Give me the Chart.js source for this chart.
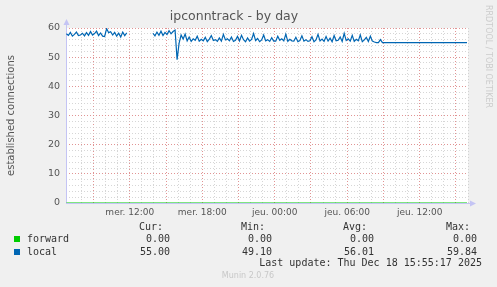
<!DOCTYPE html>
<html lang="fr">
<head>
<meta charset="UTF-8">
<title>ipconntrack - by day</title>
<script src="https://cdn.jsdelivr.net/npm/chart.js"></script>
<style>
    body { margin: 0; background: #f0f0f0; }
    .wrap { position: relative; width: 497px; height: 287px; overflow: hidden; }
    canvas { position: absolute; left: 0; top: 0; }
    .t { position: absolute; font-family: 'DejaVu Sans Mono', monospace; font-size: 10px; line-height: 12px; color: #333; white-space: pre; }
    .sw { position: absolute; width: 6px; height: 6px; }
    .credit { position: absolute; font-family: 'DejaVu Sans', sans-serif; font-size: 8px; color: #c8c8c8; white-space: pre; }
    .side { position: absolute; left: 484px; top: 5px; font-family: 'DejaVu Sans', sans-serif; font-size: 8px; color: #cccccc; writing-mode: vertical-rl; white-space: pre; }
</style>
</head>
<body>
<div class="wrap">
    <canvas id="chart" width="497" height="287"></canvas>

    <div class="t" style="right:334px; top:221px">Cur:</div>
    <div class="t" style="right:232px; top:221px">Min:</div>
    <div class="t" style="right:130px; top:221px">Avg:</div>
    <div class="t" style="right:27px; top:221px">Max:</div>

    <div class="sw" style="left:14px; top:236px; background:#00cc00"></div>
    <div class="t" style="left:27px; top:233px">forward</div>
    <div class="t" style="right:327px; top:233px">0.00</div>
    <div class="t" style="right:225px; top:233px">0.00</div>
    <div class="t" style="right:123px; top:233px">0.00</div>
    <div class="t" style="right:20px; top:233px">0.00</div>

    <div class="sw" style="left:14px; top:249px; background:#0066b3"></div>
    <div class="t" style="left:27px; top:246px">local</div>
    <div class="t" style="right:327px; top:246px">55.00</div>
    <div class="t" style="right:225px; top:246px">49.10</div>
    <div class="t" style="right:123px; top:246px">56.01</div>
    <div class="t" style="right:20px; top:246px">59.84</div>

    <div class="t" style="right:15px; top:257px">Last update: Thu Dec 18 15:55:17 2025</div>
    <div class="credit" style="left:248px; top:271px; transform:translateX(-50%)">Munin 2.0.76</div>
    <div class="side">RRDTOOL / TOBI OETIKER</div>
</div>

<script>
    // hours counted from Wed 00:00, one sample every 10 minutes
    const startHour = 6.75;
    const stepHours = 1 / 6;

    const localValues = [
        58.0, 57.5, 58.5, 57.2, 57.8, 58.6, 57.4, 57.6, 58.2, 57.3,
        58.4, 57.5, 58.8, 57.6, 58.1, 58.9, 57.4, 58.3, 57.2, 57.1,
        59.8, 58.4, 58.7, 57.6, 58.5, 57.2, 58.2, 56.9, 58.6, 57.4, 58.3,
        null, null, null, null, null, null, null, null, null, null, null, null,
        58.2, 57.3, 58.6, 57.5, 58.9, 57.4, 58.5, 57.8, 59.1, 58.0, 58.8, 59.3,
        49.1,
        54.8, 57.6, 56.2, 57.9, 55.6, 56.9, 55.4, 56.3, 55.8, 57.2, 55.5, 56.1, 55.6, 56.8, 55.3, 56.2, 57.4, 55.7, 56.0, 55.4,
        56.6, 55.5, 57.8, 55.9, 56.3, 55.6, 56.9, 55.4, 55.8, 57.1, 55.6, 57.5, 56.0, 55.3, 56.6, 55.5, 56.1, 58.1, 55.7, 56.4,
        55.3, 55.9, 57.6, 55.6, 56.0, 55.4, 56.7, 55.5, 55.5, 57.2, 55.8, 56.3, 55.6, 57.9, 55.4, 56.1, 55.6, 55.5, 56.8, 55.3,
        55.7, 57.3, 55.5, 56.0, 55.4, 55.6, 57.0, 55.3, 55.9, 57.8, 55.6, 56.2, 55.4, 57.1, 55.5, 56.5, 55.3, 57.4, 55.6, 55.8,
        56.9, 55.4, 58.2, 55.7, 56.3, 55.5, 57.5, 55.4, 56.1, 55.6, 57.6, 55.3, 55.9, 56.8, 55.4, 57.2, 55.5, 55.2, 55.0,
        55.0, 56.0, 55.0, 55.0, 55.0, 55.0, 55.0, 55.0, 55.0, 55.0,
        55.0, 55.0, 55.0, 55.0, 55.0, 55.0, 55.0, 55.0, 55.0, 55.0,
        55.0, 55.0, 55.0, 55.0, 55.0, 55.0, 55.0, 55.0, 55.0, 55.0,
        55.0, 55.0, 55.0, 55.0, 55.0, 55.0, 55.0, 55.0, 55.0, 55.0,
        55.0, 55.0, 55.0, 55.0, 55.0
    ];

    const forwardHours = [6.75, 39.92];
    const forwardValues = [0, 0];

    const majorHours = [9, 12, 15, 18, 21, 24, 27, 30, 33, 36, 39];
    const xLabelHours = [12, 18, 24, 30, 36];
    const xLabelText = ['mer. 12:00', 'mer. 18:00', 'jeu. 00:00', 'jeu. 06:00', 'jeu. 12:00'];
    const yTicks = [0, 10, 20, 30, 40, 50, 60];

    const localPoints = localValues.map((v, i) => ({ x: startHour + i * stepHours, y: v }));
    const forwardPoints = forwardValues.map((v, i) => ({ x: forwardHours[i], y: v }));

    const axisColor = '#c4c4f4';
    const majorGrid = 'rgba(230, 120, 120, 0.7)';
    const minorGrid = 'rgba(200, 200, 200, 0.75)';

    // white plot area, axis lines with arrows like rrdtool
    const rrdFrame = {
        id: 'rrdFrame',
        beforeDraw(chart) {
            const { ctx, chartArea: a } = chart;
            ctx.save();
            ctx.fillStyle = '#ffffff';
            ctx.fillRect(a.left, a.top, a.right - a.left, a.bottom - a.top);
            ctx.restore();
        },
        beforeDatasetsDraw(chart) {
            const { ctx, chartArea: a } = chart;
            ctx.save();
            ctx.strokeStyle = axisColor;
            ctx.fillStyle = axisColor;
            ctx.lineWidth = 1;
            ctx.beginPath();
            ctx.moveTo(a.left + 0.5, a.bottom + 0.5);
            ctx.lineTo(a.left + 0.5, a.top - 5);
            ctx.moveTo(a.left, a.bottom + 0.5);
            ctx.lineTo(a.right + 4, a.bottom + 0.5);
            ctx.stroke();
            ctx.beginPath();
            ctx.moveTo(a.left + 0.5, a.top - 9);
            ctx.lineTo(a.left - 2.5, a.top - 3);
            ctx.lineTo(a.left + 3.5, a.top - 3);
            ctx.closePath();
            ctx.fill();
            ctx.beginPath();
            ctx.moveTo(a.right + 8, a.bottom + 0.5);
            ctx.lineTo(a.right + 2, a.bottom - 2.5);
            ctx.lineTo(a.right + 2, a.bottom + 3.5);
            ctx.closePath();
            ctx.fill();
            ctx.restore();
        }
    };

    new Chart(document.getElementById('chart'), {
        type: 'line',
        data: {
            datasets: [
                {
                    label: 'local',
                    data: localPoints,
                    borderColor: '#0066b3',
                    borderWidth: 1.2,
                    pointRadius: 0,
                    tension: 0,
                    spanGaps: false
                },
                {
                    label: 'forward',
                    data: forwardPoints,
                    borderColor: '#00cc00',
                    borderWidth: 1.2,
                    pointRadius: 0,
                    tension: 0
                }
            ]
        },
        options: {
            responsive: false,
            animation: false,
            events: [],
            layout: { padding: { left: 0, right: 29, top: 0, bottom: 64 } },
            plugins: {
                legend: { display: false },
                tooltip: { enabled: false },
                title: {
                    display: true,
                    text: 'ipconntrack - by day',
                    color: '#555',
                    font: { family: 'DejaVu Sans', size: 12.5, weight: 'normal' },
                    padding: { top: 9, bottom: 4 }
                }
            },
            scales: {
                xMinor: {
                    type: 'linear',
                    position: 'bottom',
                    min: 6.72, max: 40,
                    z: -2,
                    ticks: { display: false, stepSize: 1 },
                    grid: { color: minorGrid, drawTicks: false },
                    border: { display: false, dash: [1, 2] },
                    afterFit(s) { s.height = 0; }
                },
                x: {
                    type: 'linear',
                    position: 'bottom',
                    min: 6.72, max: 40,
                    z: -1,
                    afterBuildTicks(s) { s.ticks = majorHours.map(v => ({ value: v })); },
                    ticks: {
                        autoSkip: false, maxRotation: 0, padding: 4,
                        color: '#555',
                        font: { family: 'DejaVu Sans', size: 9 },
                        callback(v) {
                            const k = xLabelHours.indexOf(v);
                            return k >= 0 ? xLabelText[k] : '';
                        }
                    },
                    grid: { color: majorGrid, drawTicks: false },
                    border: { display: false, dash: [1, 2] },
                    afterFit(s) { s.height = 20; }
                },
                yMinor: {
                    type: 'linear',
                    position: 'left',
                    min: 0, max: 60,
                    z: -2,
                    ticks: { display: false, stepSize: 2 },
                    grid: { color: minorGrid, drawTicks: false },
                    border: { display: false, dash: [1, 2] },
                    afterFit(s) { s.width = 0; }
                },
                y: {
                    type: 'linear',
                    position: 'left',
                    min: 0, max: 60,
                    z: -1,
                    afterBuildTicks(s) { s.ticks = yTicks.map(v => ({ value: v })); },
                    ticks: {
                        padding: 6,
                        color: '#555',
                        font: { family: 'DejaVu Sans', size: 9.5 }
                    },
                    grid: { color: majorGrid, drawTicks: false },
                    border: { display: false, dash: [1, 2] },
                    title: {
                        display: true,
                        text: 'established connections',
                        color: '#555',
                        font: { family: 'DejaVu Sans', size: 10 },
                        padding: { top: 5, bottom: 0 }
                    },
                    afterFit(s) { s.width = 66; }
                }
            }
        },
        plugins: [rrdFrame]
    });
</script>
</body>
</html>
